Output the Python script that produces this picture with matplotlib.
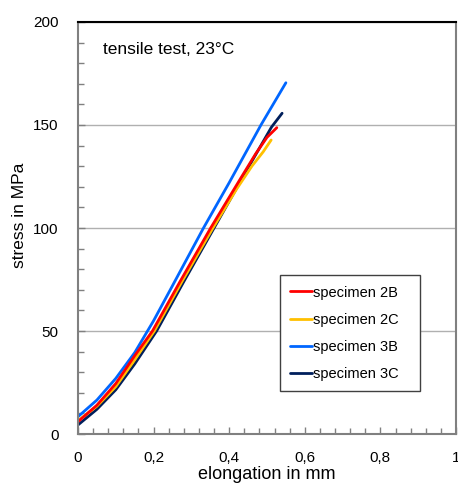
import matplotlib
matplotlib.use("Agg")
import matplotlib.pyplot as plt
from matplotlib.ticker import MultipleLocator, FuncFormatter

plt.rcParams['font.family'] = ['Liberation Sans', 'DejaVu Sans']

# elongation (mm) / stress (MPa)
elong_2B = [0, 0.05, 0.1, 0.15, 0.197, 0.27, 0.351, 0.43, 0.47, 0.50, 0.526]
stress_2B = [6, 14, 24.5, 38, 50, 74, 100, 124, 136, 144, 148.7]

elong_2C = [0, 0.05, 0.1, 0.15, 0.202, 0.275, 0.357, 0.42, 0.46, 0.49, 0.511]
stress_2C = [6.5, 13.5, 23, 36, 50, 74, 100, 119, 130, 137, 142.7]

elong_3B = [0, 0.05, 0.1, 0.15, 0.2, 0.25, 0.332, 0.40, 0.484, 0.55]
stress_3B = [8.4, 16.5, 27, 39.5, 55, 72, 100, 122, 150, 170.5]

elong_3C = [0, 0.05, 0.1, 0.15, 0.208, 0.28, 0.36, 0.44, 0.512, 0.54]
stress_3C = [4.4, 12, 21.5, 34, 50, 74, 100, 126, 149, 155.7]

labels = ['specimen 2B', 'specimen 2C', 'specimen 3B', 'specimen 3C']
colors = ['#FF0000', '#FFC000', '#0066FF', '#001F5C']

fig = plt.figure(figsize=(4.58, 4.83), dpi=100)
ax = fig.add_axes([0.1703, 0.1014, 0.8253, 0.8531])

series = [(elong_2B, stress_2B), (elong_2C, stress_2C), (elong_3B, stress_3B), (elong_3C, stress_3C)]
# draw 3C first so the others sit on top, as in the reference
handles = {}
for i in [3, 2, 1, 0]:
    x, y = series[i]
    h, = ax.plot(x, y, color=colors[i], lw=2, label=labels[i], solid_capstyle='round')
    handles[i] = h

ax.set_xlim(0, 1)
ax.set_ylim(0, 200)
ax.xaxis.set_major_locator(MultipleLocator(0.2))
ax.xaxis.set_minor_locator(MultipleLocator(0.04))
ax.yaxis.set_major_locator(MultipleLocator(50))
ax.yaxis.set_minor_locator(MultipleLocator(10))
ax.xaxis.set_major_formatter(FuncFormatter(lambda v, p: ('%g' % round(v, 2)).replace('.', ',')))
ax.tick_params(which='both', direction='in', color='#808080', width=1, labelsize=11)
ax.tick_params(which='major', length=5)
ax.tick_params(which='minor', length=4)
ax.tick_params(axis='x', pad=12)
ax.tick_params(axis='y', pad=14)

ax.yaxis.grid(True, which='major', color='#B0B0B0', lw=1)
ax.set_axisbelow(True)

for s in ['left', 'bottom', 'right']:
    ax.spines[s].set_color('#808080')
    ax.spines[s].set_linewidth(1.5)
ax.spines['top'].set_color('black')
ax.spines['top'].set_linewidth(1.5)

ax.set_xlabel('elongation in mm', fontsize=13, labelpad=1)
ax.set_ylabel('stress in MPa', fontsize=12.5)
ax.yaxis.set_label_coords(-0.135, 0.53)

ax.text(0.066, 0.934, 'tensile test, 23°C', transform=ax.transAxes, fontsize=12.5,
        va='center', ha='left')

leg = ax.legend([handles[i] for i in range(4)], labels, loc='lower left',
                bbox_to_anchor=(0.534, 0.104, 0.37, 0.274), mode='expand',
                fontsize=10.5, frameon=True, fancybox=False, framealpha=1,
                edgecolor='#404040', handlelength=1.5, handletextpad=0.1,
                labelspacing=0.9, borderpad=0.7, borderaxespad=0)
leg.get_frame().set_linewidth(1)

fig.savefig('out.png', dpi=100)
